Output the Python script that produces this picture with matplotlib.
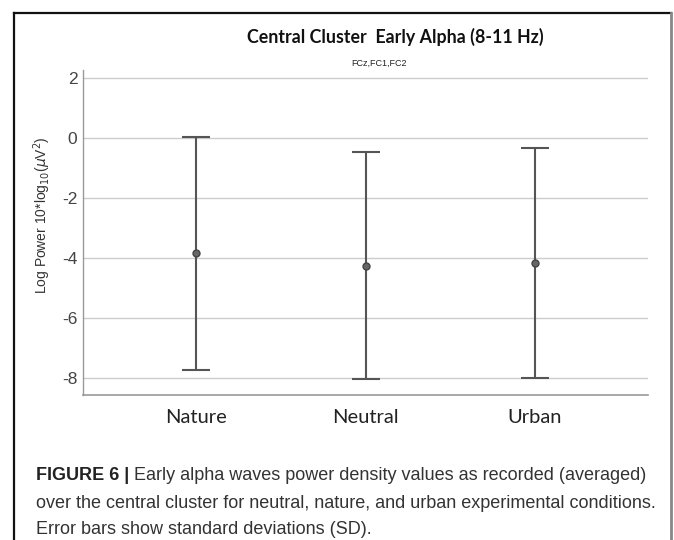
import matplotlib
matplotlib.use('Agg')
import matplotlib.pyplot as plt
from matplotlib.lines import Line2D

# data
conditions = ['Nature', 'Neutral', 'Urban']
means = [-3.83, -4.24, -4.15]
sds = [3.88, 3.77, 3.82]
yticks = [-8, -6, -4, -2, 0, 2]

title = 'Central Cluster  Early Alpha (8-11 Hz)'
subtitle = 'FCz,FC1,FC2'
ylabel = r'Log Power 10*log$_{10}$($\mu$V$^2$)'
cap_bold = 'FIGURE 6 |'
cap_lines = [' Early alpha waves power density values as recorded (averaged)',
             'over the central cluster for neutral, nature, and urban experimental conditions.',
             'Error bars show standard deviations (SD).']

W, H = 674, 540
fig = plt.figure(figsize=(W / 100, H / 100), dpi=100)
fig.patch.set_facecolor('white')

ax = fig.add_axes([83 / W, 1 - 395 / H, (648 - 83) / W, (395 - 70) / H])
x = list(range(len(conditions)))
ax.errorbar(x, means, yerr=sds, fmt='o', color='#555555', ecolor='#555555',
            elinewidth=1.5, capsize=10, capthick=1.5, markersize=5,
            markerfacecolor='#666666', markeredgecolor='#444444', zorder=3)

ax.set_xlim(-2 / 3, 8 / 3)
ax.set_ylim(-8.55, 2.27)
ax.set_yticks(yticks)
ax.set_yticklabels([str(t) for t in yticks],
                   fontsize=12.5, color='#444444', family='Liberation Sans')
ax.set_xticks(x)
ax.set_xticklabels(conditions, fontsize=14.5, family='Lato', color='#222222')
ax.tick_params(axis='both', length=0)
ax.tick_params(axis='x', pad=10)
ax.tick_params(axis='y', pad=4)
ax.yaxis.grid(True, color='#cccccc', linewidth=1)
ax.set_axisbelow(True)
for s in ['top', 'right']:
    ax.spines[s].set_visible(False)
ax.spines['left'].set_color('#999999')
ax.spines['bottom'].set_color('#999999')
ax.spines['left'].set_linewidth(1)
ax.spines['bottom'].set_linewidth(1.2)
ax.set_ylabel(ylabel, fontsize=10, color='#333333', family='Liberation Sans')
ax.yaxis.set_label_coords((53 - 83) / (648 - 83), (395 - 215) / (395 - 70))

fig.text(395 / W, 1 - 37 / H, title, ha='center', va='center',
         fontsize=12.8, fontweight='bold', family='Lato', color='#111111')
fig.text(379 / W, 1 - 63 / H, subtitle, ha='center', va='center',
         fontsize=6.5, family='Liberation Sans', color='#222222')

# outer frame
fig.add_artist(Line2D([14 / W, 14 / W], [0, 1 - 13 / H], transform=fig.transFigure,
                      color='#111111', linewidth=1.6))
fig.add_artist(Line2D([14 / W, 671 / W], [1 - 13 / H, 1 - 13 / H], transform=fig.transFigure,
                      color='#111111', linewidth=1.6))
fig.add_artist(Line2D([671 / W, 671 / W], [0, 1 - 13 / H], transform=fig.transFigure,
                      color='#888888', linewidth=2))

# caption
cap_x = 36
cap_y = [475, 503, 530]
t0 = fig.text(cap_x / W, 1 - cap_y[0] / H, cap_bold, ha='left', va='center',
              fontsize=13, fontweight='bold', family='Liberation Sans', color='#222222')
fig.canvas.draw()
bb = t0.get_window_extent(fig.canvas.get_renderer())
fig.text(bb.x1 / W, 1 - cap_y[0] / H, cap_lines[0], ha='left', va='center',
         fontsize=13, family='Liberation Sans', color='#333333')
for line, yy in zip(cap_lines[1:], cap_y[1:]):
    fig.text(cap_x / W, 1 - yy / H, line, ha='left', va='center',
             fontsize=13, family='Liberation Sans', color='#333333')

fig.savefig('out.png', dpi=100)
